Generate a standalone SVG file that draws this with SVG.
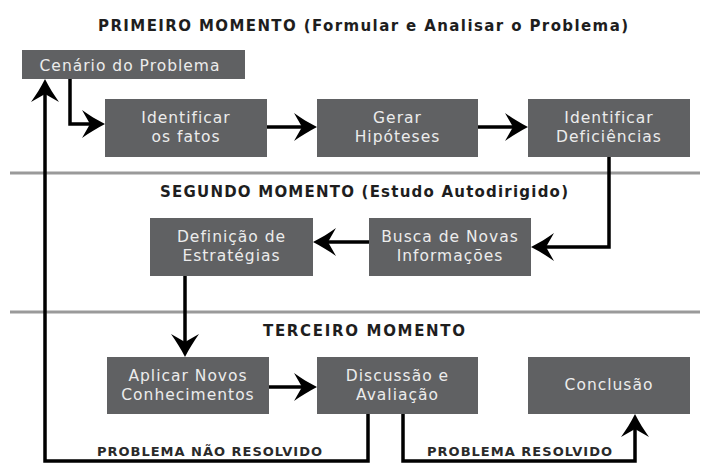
<svg xmlns="http://www.w3.org/2000/svg" width="711" height="464" viewBox="0 0 711 464">
<style>
.box{fill:#606163}
.bt{font-family:"DejaVu Sans",sans-serif;font-size:15.5px;fill:#ececec;text-anchor:middle;letter-spacing:1px}
.hd{font-family:"DejaVu Sans",sans-serif;font-weight:bold;font-size:15px;fill:#1e1e1e}
.lb{font-family:"DejaVu Sans",sans-serif;font-weight:bold;font-size:13px;fill:#2a2a2a}
.sep{stroke:#9a9a9a;stroke-width:3}
.cn{fill:none;stroke:#000;stroke-width:3.5;stroke-linejoin:miter}
</style>
<defs>
<marker id="ah" markerUnits="userSpaceOnUse" markerWidth="30" markerHeight="30" viewBox="-24 -15 30 30" refX="0" refY="0" orient="auto">
<path d="M4,0 C-4,-4 -12,-9 -19,-14 L-11,0 L-19,14 C-12,9 -4,4 4,0Z" fill="#000"/>
</marker>
</defs>
<g id="separators">
<line class="sep" x1="10" y1="173" x2="700" y2="173"/>
<line class="sep" x1="10" y1="312" x2="700" y2="312"/>
</g>
<g id="headings">
<text class="hd" x="98" y="31" textLength="530" lengthAdjust="spacing">PRIMEIRO MOMENTO (Formular e Analisar o Problema)</text>
<text class="hd" x="160" y="197" textLength="408" lengthAdjust="spacing">SEGUNDO MOMENTO (Estudo Autodirigido)</text>
<text class="hd" x="263" y="336" textLength="202" lengthAdjust="spacing">TERCEIRO MOMENTO</text>
</g>
<g id="connectors">
<path class="cn" d="M70,79 V124 H101" marker-end="url(#ah)"/>
<path class="cn" d="M267,127 H313" marker-end="url(#ah)"/>
<path class="cn" d="M478,127 H524" marker-end="url(#ah)"/>
<path class="cn" d="M609,157 V247 H535" marker-end="url(#ah)"/>
<path class="cn" d="M369,242 H317" marker-end="url(#ah)"/>
<path class="cn" d="M185,276 V353" marker-end="url(#ah)"/>
<path class="cn" d="M269,387 H313" marker-end="url(#ah)"/>
<path class="cn" d="M368,414 V461 H45 V83" marker-end="url(#ah)"/>
<path class="cn" d="M403,414 V461 H635 V418" marker-end="url(#ah)"/>
</g>
<g id="n-cenario"><rect class="box" x="22" y="50" width="223" height="29"/><text class="bt" x="130" y="71">Cenário do Problema</text></g>
<g id="n-fatos"><rect class="box" x="105" y="99" width="162" height="58"/><text class="bt" x="186" y="123">Identificar</text><text class="bt" x="186" y="142">os fatos</text></g>
<g id="n-hipoteses"><rect class="box" x="317" y="99" width="161" height="58"/><text class="bt" x="397.5" y="123">Gerar</text><text class="bt" x="397.5" y="142">Hipóteses</text></g>
<g id="n-deficiencias"><rect class="box" x="528" y="99" width="162" height="58"/><text class="bt" x="609" y="123">Identificar</text><text class="bt" x="609" y="142">Deficiências</text></g>
<g id="n-estrategias"><rect class="box" x="150" y="218" width="163" height="58"/><text class="bt" x="231.5" y="242">Definição de</text><text class="bt" x="231.5" y="261">Estratégias</text></g>
<g id="n-busca"><rect class="box" x="369" y="218" width="162" height="58"/><text class="bt" x="450" y="242">Busca de Novas</text><text class="bt" x="450" y="261">Informações</text></g>
<g id="n-aplicar"><rect class="box" x="107" y="357" width="162" height="57"/><text class="bt" x="188" y="381">Aplicar Novos</text><text class="bt" x="188" y="400">Conhecimentos</text></g>
<g id="n-discussao"><rect class="box" x="317" y="357" width="161" height="57"/><text class="bt" x="397.5" y="381">Discussão e</text><text class="bt" x="397.5" y="400">Avaliação</text></g>
<g id="n-conclusao"><rect class="box" x="528" y="357" width="162" height="57"/><text class="bt" x="609" y="390">Conclusão</text></g>
<g id="labels">
<text class="lb" x="97" y="456" textLength="225" lengthAdjust="spacing">PROBLEMA NÃO RESOLVIDO</text>
<text class="lb" x="427" y="456" textLength="185" lengthAdjust="spacing">PROBLEMA RESOLVIDO</text>
</g>
</svg>
